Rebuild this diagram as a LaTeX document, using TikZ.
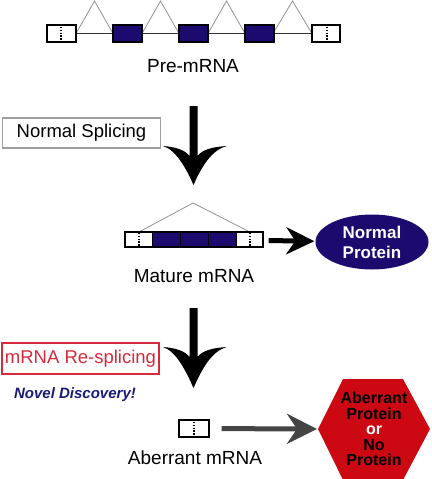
\documentclass[tikz,border=0pt]{standalone}
\usepackage{fontspec}
\setsansfont{Liberation Sans}
\usetikzlibrary{arrows.meta,shapes.geometric}

\definecolor{exonblue}{HTML}{1C0A6E}
\definecolor{splicered}{HTML}{D62A3C}
\definecolor{hexred}{HTML}{CC0812}
\definecolor{novelblue}{HTML}{1A1A78}
\definecolor{arrowgray}{HTML}{444444}

\begin{document}
\begin{tikzpicture}[
    x=1pt, y=-1pt,
    every node/.style={font=\sffamily},
    caption/.style={font=\sffamily\fontsize{19}{22}\selectfont},
    stepnote/.style={draw, line width=1.5pt, minimum width=158pt, minimum height=30pt,
        inner sep=0pt, font=\sffamily\fontsize{18.5}{22}\selectfont},
    exon/.style={fill=exonblue, draw=black, line width=1.3pt},
    utr/.style={fill=white, draw=black, line width=1.3pt},
    intron/.style={draw=gray!85, line width=0.8pt},
    cut/.style={dash pattern=on 1.4pt off 1.4pt, line width=1.3pt}
]
\useasboundingbox (0,0) rectangle (431,479);

% Parameters
\def\preY{25}
\def\preH{17}
\def\matY{232}
\def\matH{15}

% === Pre-mRNA ===
% backbone
\draw[black!80, line width=1.2pt] (76,33.5) -- (312,33.5);

% introns (spliced out)
\foreach \xa/\xb in {76/113, 142/179, 208/245, 273/312} {
    \draw[intron] (\xa,33.5) -- ({(\xa+\xb)/2},1) -- (\xb,33.5);
}

% exons
\foreach \xl in {113, 179, 245} {
    \draw[exon] (\xl,\preY) rectangle ++(29,\preH);
}
\draw[utr] (47,\preY) rectangle (76,{\preY+\preH});
\draw[utr] (312,\preY) rectangle (340,{\preY+\preH});
\draw[cut] (61,{\preY+2}) -- (61,{\preY+\preH-2});
\draw[cut] (327,{\preY+2}) -- (327,{\preY+\preH-2});

\node[caption] (pre) at (193,66) {Pre-mRNA};

% === Splicing arrows ===
\foreach \ytop/\ybarb/\ytip in {106/146/185, 308/347/388} {
    \fill[black] (193.5,\ytip)
        .. controls (186,{\ytip-17}) and (176,{\ybarb+4}) .. (163,\ybarb)
        .. controls (176,{\ybarb+1}) and (185,{\ybarb+4}) .. (189.5,{\ybarb+10})
        -- (189.5,\ytop) -- (197.5,\ytop) -- (197.5,{\ybarb+10})
        .. controls (202,{\ybarb+4}) and (211,{\ybarb+1}) .. (227,\ybarb)
        .. controls (211,{\ybarb+4}) and (201,{\ytip-17}) .. (193.5,\ytip) -- cycle;
}

\node[stepnote, draw=gray!75] (normal) at (81.5,133) {Normal Splicing};

% === Mature mRNA ===
\draw[intron] (139,\matY) -- (193,203) -- (250,\matY);
\fill[white] (125,\matY) rectangle (152,{\matY+\matH});
\fill[white] (236,\matY) rectangle (263,{\matY+\matH});
\foreach \xl in {152, 180, 208} {
    \draw[exon, line width=1pt] (\xl,\matY) rectangle ++(28,\matH);
}
\draw[cut] (139,{\matY+1}) -- (139,{\matY+\matH-1});
\draw[cut] (250,{\matY+1}) -- (250,{\matY+\matH-1});
\node[draw, line width=1.3pt, minimum width=138pt, minimum height=15pt,
    inner sep=0pt] (mature) at (194,239.5) {};

\node[caption] (maturelbl) at (194,276) {Mature mRNA};

% Normal protein
\node[ellipse, fill=exonblue, minimum width=113pt, minimum height=55pt,
    inner sep=0pt, text=white, align=center,
    font=\sffamily\bfseries\fontsize{17}{20}\selectfont] (protein) at (372,242)
    {Normal\\Protein};
\draw[-{Stealth[length=28pt, width=27pt, inset=9pt]}, line width=5pt,
    shorten <=5pt, shorten >=1pt] (mature) -- (protein);

% === Re-splicing ===
\node[stepnote, draw=splicered, text=splicered, minimum width=157pt,
    minimum height=31pt] (resplice) at (80.5,358.5) {mRNA Re-splicing};
\node[text=novelblue, font=\sffamily\bfseries\itshape\fontsize{15}{18}\selectfont]
    (novel) at (75,395) {Novel Discovery!};

% === Aberrant mRNA ===
\node[draw, line width=1.3pt, minimum width=30pt, minimum height=17pt,
    inner sep=0pt] (aberrant) at (194,428.5) {};
\draw[cut] (194,422) -- (194,435);
\node[caption] (aberrantlbl) at (195,458) {Aberrant mRNA};

% Aberrant protein (hexagon)
\fill[hexred] (318,429) -- (343,379) -- (403,379) -- (430,429)
    -- (403,480) -- (343,480) -- cycle;
\coordinate (hexw) at (318,429);
\node[align=center, font=\sffamily\bfseries\fontsize{16}{15.5}\selectfont]
    (result) at (374,429)
    {Aberrant\\Protein\\\textcolor{white}{or}\\No\\Protein};

\draw[-{Stealth[length=30pt, width=30pt, inset=10pt]}, arrowgray, line width=5pt,
    shorten <=12pt, shorten >=1pt] (aberrant) -- (hexw);

\end{tikzpicture}
\end{document}
